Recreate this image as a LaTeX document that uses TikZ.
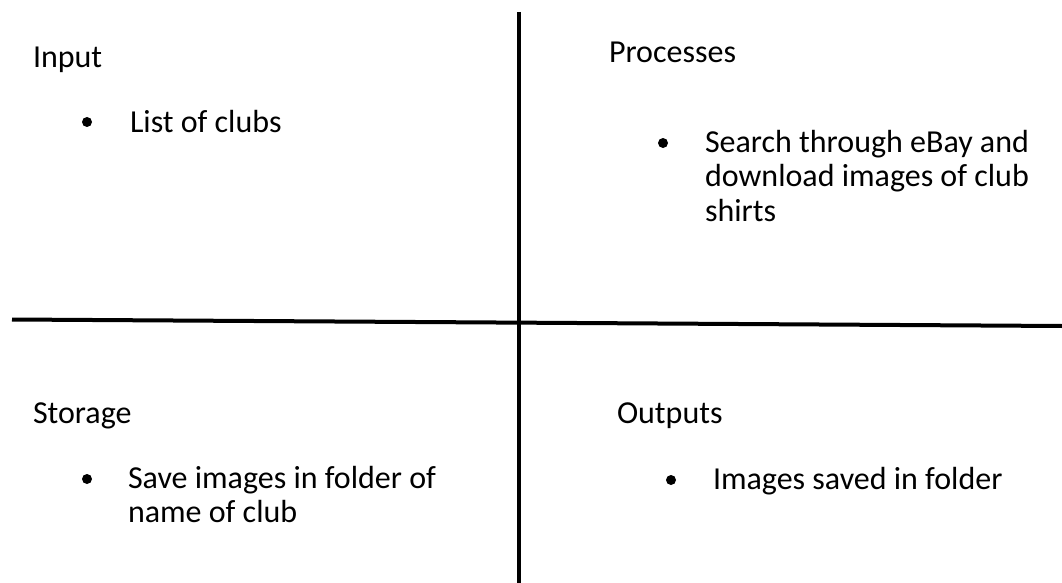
\documentclass[tikz,border=0pt]{standalone}
\usepackage{fontspec}
\setmainfont{Carlito}
\begin{document}
\begin{tikzpicture}[x=1pt,y=-1pt,
  txt/.style={anchor=base west,inner sep=0pt,outer sep=0pt,align=left,font=\fontsize{32}{34.5}\selectfont},
  bul/.style={circle,fill=black,inner sep=0pt,minimum size=10pt},
  divider/.style={line width=4pt,black}]
\useasboundingbox (0,0) rectangle (1062,583);
% dividers
\coordinate (vtop) at (519,12);
\coordinate (vbot) at (519,583);
\coordinate (hl) at (12,319.5);
\coordinate (hr) at (1062,326);
\draw[divider] (vtop) -- (vbot);
\draw[divider] (hl) -- (hr);
% Input
\node[txt] (input) at (33,68) {Input};
\node[bul] (b1) at (87,122) {};
\node[txt] (clubs) at (130,132) {List of clubs};
% Processes
\node[txt] (proc) at (609,63) {Processes};
\node[bul] (b2) at (663,143) {};
\node[txt] (search) at (705,221) {Search through eBay and\\download images of club\\shirts};
% Storage
\node[txt] (stor) at (33,423) {Storage};
\node[bul] (b3) at (87,479) {};
\node[txt] (save) at (128,522.5) {Save images in folder of\\name of club};
% Outputs
\node[txt] (out) at (617,423) {Outputs};
\node[bul] (b4) at (671,480) {};
\node[txt] (imgs) at (713,489) {Images saved in folder};
\end{tikzpicture}
\end{document}
